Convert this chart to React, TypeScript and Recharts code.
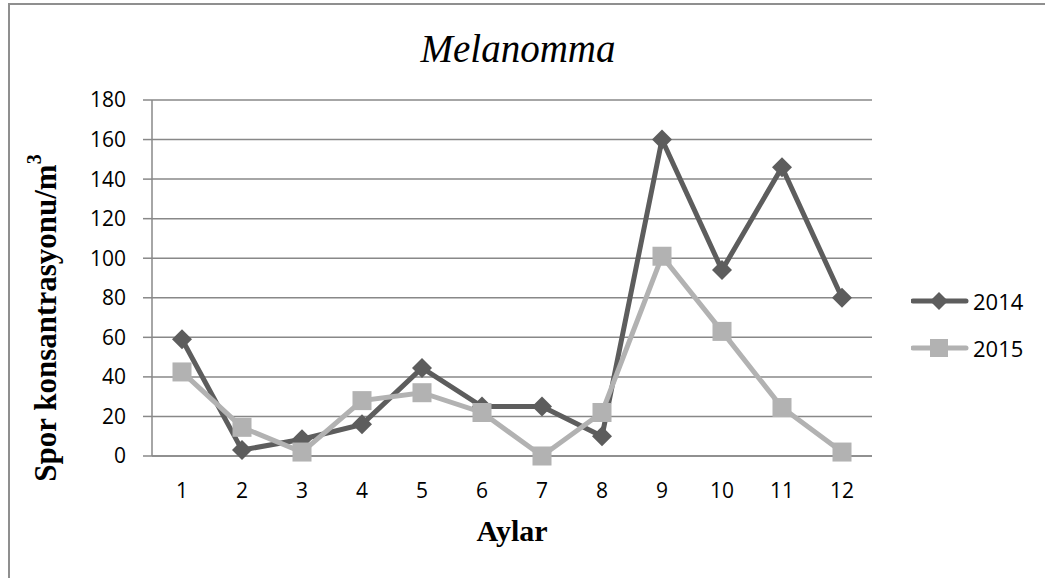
import React from "react";
import {
  LineChart,
  Line,
  XAxis,
  YAxis,
  CartesianGrid,
  Legend,
} from "recharts";

const months = ["1", "2", "3", "4", "5", "6", "7", "8", "9", "10", "11", "12"];
const spores2014 = [59, 3, 8.5, 16, 44.5, 25, 25, 10, 160, 94, 146, 80];
const spores2015 = [42.5, 14.5, 2, 28, 32, 22, 0, 22, 101, 63, 24.5, 2];
const yTicks = [0, 20, 40, 60, 80, 100, 120, 140, 160, 180];

const data = months.map((m, i) => ({
  month: m,
  "2014": spores2014[i],
  "2015": spores2015[i],
}));

const DARK = "#5d5d5d";
const LIGHT = "#b2b2b2";
const GRID = "#888888";
const tickFont = { fontFamily: "'Open Sans', sans-serif", fontSize: 21, fill: "#000" };

function diamond(cx: number, cy: number, r: number, color: string, key?: any) {
  return (
    <polygon
      key={key}
      points={`${cx},${cy - r} ${cx + r},${cy} ${cx},${cy + r} ${cx - r},${cy}`}
      fill={color}
    />
  );
}

function square(cx: number, cy: number, r: number, color: string, key?: any) {
  return <rect key={key} x={cx - r} y={cy - r} width={r * 2} height={r * 2} fill={color} />;
}

const DiamondDot = (props: any) => diamond(props.cx, props.cy, 10, DARK, props.index);
const SquareDot = (props: any) => square(props.cx, props.cy, 9.5, LIGHT, props.index);

// rotated y-axis title with a superscript 3
function YLabel(props: any) {
  const { viewBox } = props;
  const x = viewBox.x - 47;
  const y = 313;
  return (
    <text
      x={x}
      y={y}
      transform={`rotate(-90, ${x}, ${y})`}
      textAnchor="middle"
      dominantBaseline="central"
      fontFamily="'Liberation Serif', 'Times New Roman', serif"
      fontWeight="bold"
      fontSize={31}
      fill="#000"
    >
      Spor konsantrasyonu/m<tspan dy={-11} fontSize={20}>3</tspan>
    </text>
  );
}

function LegendBox(props: any) {
  const items = props.payload || [];
  return (
    <svg width={124} height={96}>
      {items.map((it: any, i: number) => {
        const y = 20 + i * 47;
        const color = i === 0 ? DARK : LIGHT;
        return (
          <g key={it.value}>
            <line x1={2} y1={y} x2={55} y2={y} stroke={color} strokeWidth={5} strokeLinecap="round" />
            {i === 0 ? diamond(28, y, 9, color) : square(28, y, 9, color)}
            <text
              x={62}
              y={y}
              dominantBaseline="central"
              fontFamily="'Open Sans', sans-serif"
              fontSize={22}
              fill="#000"
            >
              {it.value}
            </text>
          </g>
        );
      })}
    </svg>
  );
}

export default function App() {
  return (
    <div
      style={{
        position: "absolute",
        left: 8,
        top: 3,
        width: 1037,
        height: 575,
        borderTop: "2px solid #8f8f8f",
        borderLeft: "2px solid #8f8f8f",
        boxSizing: "border-box",
        background: "#fff",
      }}
    >
      <div
        style={{
          position: "absolute",
          left: 0,
          width: 1016,
          top: 23,
          lineHeight: "42px",
          textAlign: "center",
          fontFamily: "'Liberation Serif', 'Times New Roman', serif",
          fontStyle: "italic",
          fontSize: 39,
        }}
      >
        Melanomma
      </div>
      <LineChart
        width={1035}
        height={573}
        data={data}
        margin={{ top: 95, right: 173, left: 82, bottom: 62 }}
      >
        <CartesianGrid vertical={false} stroke={GRID} strokeWidth={1.5} />
        <XAxis
          dataKey="month"
          padding={{ left: 30, right: 30 }}
          tickLine={false}
          axisLine={{ stroke: GRID, strokeWidth: 1.5 }}
          tick={tickFont}
          tickMargin={21}
          height={60}
          label={{
            value: "Aylar",
            position: "insideBottom",
            offset: -25,
            style: {
              fontFamily: "'Liberation Serif', 'Times New Roman', serif",
              fontWeight: "bold",
              fontSize: 30,
              fill: "#000",
            },
          }}
        />
        <YAxis
          domain={[0, 180]}
          ticks={yTicks}
          width={60}
          tickSize={9}
          tickMargin={17}
          tickLine={{ stroke: GRID, strokeWidth: 1.5 }}
          axisLine={{ stroke: GRID, strokeWidth: 1.5 }}
          tick={tickFont}
          label={<YLabel />}
        />
        <Legend
          layout="vertical"
          align="center"
          verticalAlign="middle"
          content={<LegendBox />}
          wrapperStyle={{ left: 901, top: 276, width: 124, height: 96 }}
        />
        <Line
          dataKey="2014"
          stroke={DARK}
          strokeWidth={5}
          dot={DiamondDot}
          activeDot={false}
          isAnimationActive={false}
        />
        <Line
          dataKey="2015"
          stroke={LIGHT}
          strokeWidth={5}
          dot={SquareDot}
          activeDot={false}
          isAnimationActive={false}
        />
      </LineChart>
    </div>
  );
}
